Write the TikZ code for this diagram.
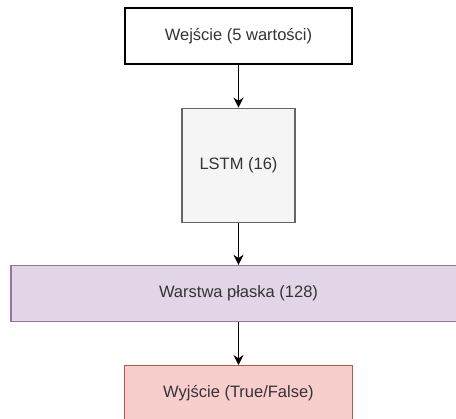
\documentclass[tikz,border=0pt]{standalone}
\usepackage{fontspec}
\setmainfont{Liberation Sans}
\usetikzlibrary{arrows.meta, positioning}
\definecolor{lstmfill}{HTML}{F5F5F5}
\definecolor{lstmline}{HTML}{666666}
\definecolor{flatfill}{HTML}{E1D5E7}
\definecolor{flatline}{HTML}{9673A6}
\definecolor{outfill}{HTML}{F8CECC}
\definecolor{outline}{HTML}{B85450}

\begin{document}
\begin{tikzpicture}[
		node distance= {43pt},
		line width=1.2pt,
		main/.style= {
				draw,
				rectangle,
				text=black!80,
				font=\fontsize{16.5}{20}\selectfont,
				minimum height=56pt
			},
		myarrow/.style= {
				-{Stealth[length=10pt, width=10pt]},
				line width=1.3pt
			}
	]

	\useasboundingbox (0pt,0pt) rectangle (456pt,-419pt);

	\node[main, minimum width=227pt] (in) at (238.5pt,-36pt) {Wejście (5 wartości)};
	\node[main, draw=lstmline, fill=lstmfill, minimum width=113pt, minimum height=114pt] (lstm) [below = of in] {LSTM (16)};
	\node[main, draw=flatline, fill=flatfill, minimum width=455pt] (flat) [below = 42pt of lstm] {Warstwa płaska (128)};
	\node[main, draw=outline, fill=outfill, minimum width=228pt, minimum height=55pt] (out) [below = of flat] {Wyjście (True/False)};
	\draw[myarrow] (in) -- (lstm);
	\draw[myarrow] (lstm) -- (flat);
	\draw[myarrow] (flat) -- (out);
\end{tikzpicture}
\end{document}
